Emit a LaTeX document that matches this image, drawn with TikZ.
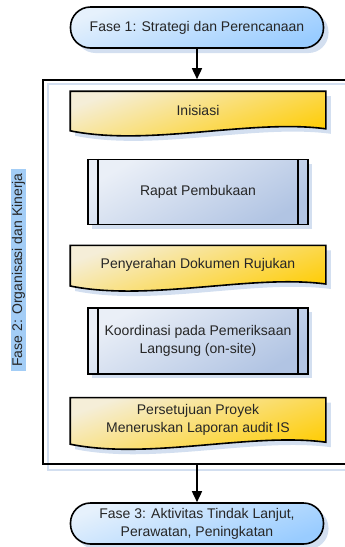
\documentclass[tikz,border=0pt]{standalone}
\usepackage{fontspec}
\setmainfont{Liberation Sans}
\usetikzlibrary{arrows.meta,backgrounds,calc,positioning,shadows}
\definecolor{ink}{HTML}{262626}
\definecolor{termtop}{HTML}{E6F1FC}
\definecolor{termblue}{HTML}{99CCFF}
\definecolor{doclight}{HTML}{F5EED8}
\definecolor{docgold}{HTML}{FFCC00}
\definecolor{proclight}{HTML}{EAEFF7}
\definecolor{procblue}{HTML}{B1C4E3}
\definecolor{shadowblue}{HTML}{D3DFF0}
\definecolor{labelblue}{HTML}{A3CDF6}
\tikzset{
  flow/.style={-{Triangle[length=11pt,width=10pt]},line width=1.6pt,draw=black},
  base/.style={line width=1.6pt,align=center,text=ink,
               font=\fontsize{14}{18}\selectfont},
  terminal/.style={base,draw=black,rounded corners=20pt,minimum width=253pt,minimum height=41pt,
                   top color=termtop,middle color=termblue!88!termtop,bottom color=termblue,shading angle=20,
                   drop shadow={shadow xshift=5pt,shadow yshift=-5pt,fill=shadowblue,opacity=1}},
  docbox/.style={base,minimum width=254pt,inner sep=0pt},
  docpath/.style={draw=black,line width=1.6pt,top color=doclight,middle color=docgold!90!white,
                  bottom color=docgold,shading angle=20,
                  drop shadow={shadow xshift=5pt,shadow yshift=-5pt,fill=shadowblue,opacity=1}},
  procbox/.style={base,draw=black,minimum width=220pt,
                  top color=proclight,middle color=procblue!60!proclight,bottom color=procblue,shading angle=30,
                  drop shadow={shadow xshift=4pt,shadow yshift=-4pt,fill=shadowblue,opacity=1}},
  phasebox/.style={draw=black,line width=1.6pt,minimum width=319pt,minimum height=384pt},
  phaselabel/.style={base,fill=labelblue,inner xsep=4pt,inner ysep=1pt}
}
\begin{document}
\begin{tikzpicture}[x=1pt,y=-1pt]
  \useasboundingbox (0,0) rectangle (345,547);
  \node[terminal] (fase1) at (197,27.5) {Fase 1: Strategi dan Perencanaan};
  \node[phasebox] (fase2) at (202.5,272) {};
  \node[phaselabel,rotate=90] (fase2lbl) at (18.5,270) {Fase 2: Organisasi dan Kinerja};
  % langkah di dalam fase 2
  \node[docbox,minimum height=36pt] (inisiasi) at (198,110) {Inisiasi};
  \node[procbox,minimum height=65pt,below=30pt of inisiasi] (rapat) {Rapat Pembukaan};
  \node[docbox,minimum height=37pt,below=20pt of rapat] (serah) {Penyerahan Dokumen Rujukan};
  \node[procbox,minimum height=66pt,below=23pt of serah] (koord) {Koordinasi pada Pemeriksaan\\Langsung (on-site)};
  \node[docbox,minimum height=43pt,below=23pt of koord] (setuju) {Persetujuan Proyek\\Meneruskan Laporan audit IS};
  \node[terminal] (fase3) at (197,523.5) {Fase 3: Aktivitas Tindak Lanjut,\\Perawatan, Peningkatan};
  \foreach \n in {rapat,koord}
    \draw[line width=1.6pt] ($(\n.north west)+(11,0)$) -- ($(\n.south west)+(11,0)$)
      ($(\n.north east)+(-11,0)$) -- ($(\n.south east)+(-11,0)$);
  \draw[flow] (fase1) -- (fase1 |- fase2.north);
  \draw[flow] (fase2.south -| fase3) -- (fase3);
  \begin{scope}[on background layer]
    \draw[shadowblue,line width=2pt] ($(fase2.north west)+(6,5)$) rectangle ($(fase2.south east)+(6,5)$);
    \foreach \n in {inisiasi,serah,setuju}
      \path[docpath] (\n.north west) -- (\n.north east) -- (\n.south east)
        .. controls ($(\n.south east)+(-75,-10)$) and ($(\n.south west)+(79,18)$) .. ($(\n.south west)+(0,2)$) -- cycle;
  \end{scope}
\end{tikzpicture}
\end{document}
